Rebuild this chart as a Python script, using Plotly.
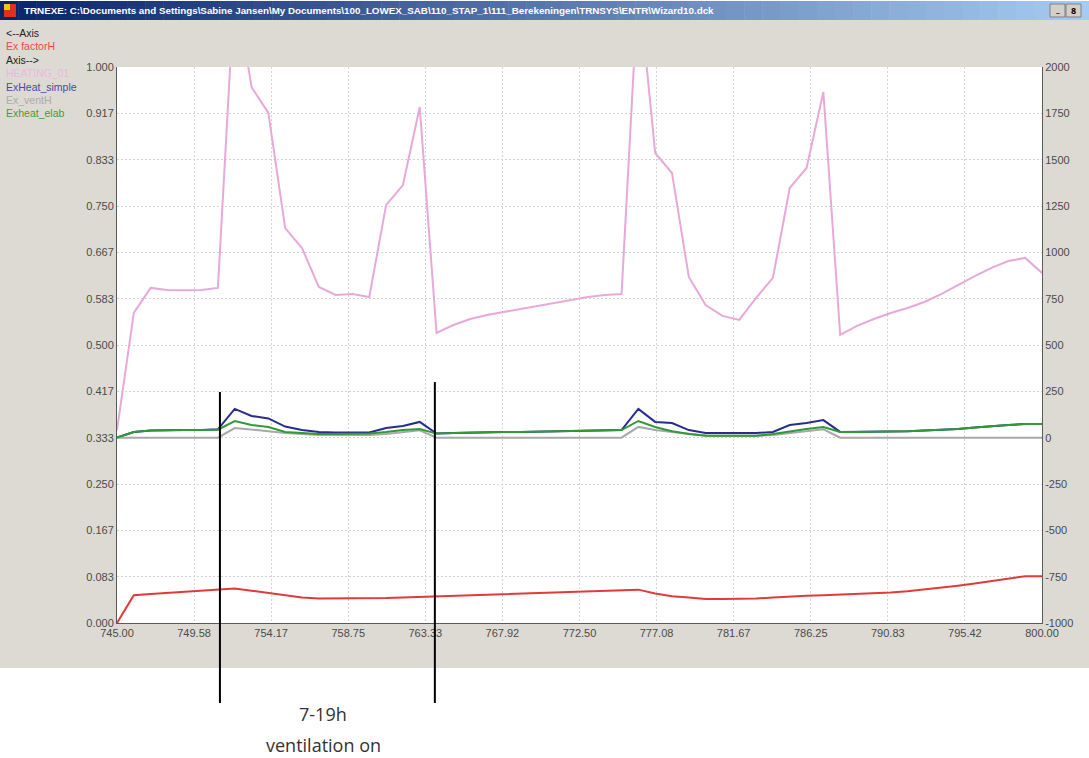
import plotly.graph_objects as go

# Simulation time in hours
hours = list(range(745, 801))

# Ex factorH (left axis, 0..1)
ex_factor_h = [
    0.000, 0.050, 0.052, 0.054, 0.056, 0.058, 0.060, 0.062, 0.058, 0.054,
    0.050, 0.046, 0.044, 0.044, 0.044, 0.044, 0.045, 0.046, 0.047, 0.048,
    0.049, 0.050, 0.052, 0.053, 0.054, 0.055, 0.056, 0.057, 0.058, 0.059,
    0.060, 0.060, 0.053, 0.048, 0.046, 0.043, 0.043, 0.043, 0.044, 0.046,
    0.048, 0.049, 0.050, 0.051, 0.052, 0.054, 0.055, 0.057, 0.060, 0.063,
    0.067, 0.071, 0.075, 0.079, 0.084, 0.084,
]

# Heating demand (right axis)
heating_01 = [
    41, 673, 808, 797, 795, 797, 808, 2450, 1892, 1752,
    1131, 1023, 813, 770, 775, 759, 1255, 1363, 1784, 565,
    608, 640, 662, 678, 694, 711, 727, 743, 759, 770,
    775, 2459, 1536, 1428, 867, 716, 657, 635, 754, 862,
    1347, 1455, 1865, 554, 603, 640, 673, 700, 732, 775,
    824, 872, 916, 953, 970, 889,
]

# Exergy of heating, simple model (right axis)
exheat_simple = [
    0, 30, 38, 41, 41, 41, 45, 155, 117, 104,
    60, 41, 31, 28, 28, 28, 52, 63, 85, 22,
    25, 28, 30, 31, 31, 33, 35, 36, 38, 40,
    41, 155, 85, 79, 41, 25, 25, 25, 25, 31,
    68, 79, 95, 31, 31, 31, 33, 35, 38, 41,
    47, 55, 63, 68, 74, 74,
]

# Exergy of ventilation heat (right axis)
ex_vent_h = [
    0, 0, 0, 0, 0, 0, 0, 52, 45, 35,
    25, 18, 15, 15, 15, 15, 20, 30, 40, 0,
    0, 0, 0, 0, 0, 0, 0, 0, 0, 0,
    0, 58, 41, 30, 20, 12, 10, 10, 10, 15,
    25, 35, 45, 0, 0, 0, 0, 0, 0, 0,
    0, 0, 0, 0, 0, 0,
]

# Exergy of heating, elaborate model (right axis)
exheat_elab = [
    0, 30, 38, 41, 41, 41, 43, 90, 68, 58,
    31, 25, 20, 20, 20, 22, 30, 41, 47, 22,
    25, 28, 30, 31, 31, 33, 35, 36, 38, 40,
    41, 90, 58, 35, 20, 10, 10, 10, 10, 20,
    35, 47, 58, 31, 31, 31, 33, 35, 38, 41,
    47, 55, 63, 68, 74, 74,
]

x_ticks = [745 + i * 55 / 12 for i in range(13)]
x_tick_text = [f"{v:.2f}" for v in x_ticks]
left_ticks = [i / 12 for i in range(13)]
left_tick_text = [f"{v:.3f}" for v in left_ticks]
right_ticks = list(range(-1000, 2001, 250))

# Ventilation period markers (hours)
vent_start, vent_end = 751.12, 763.9

W, H = 1089, 758
L, R, T, B = 117, 1042, 67, 623


def px(x):
    return (x - L) / (R - L)


def py(y):
    return (B - y) / (B - T)


fig = go.Figure()
fig.add_trace(go.Scatter(x=hours, y=ex_factor_h, mode="lines", name="Ex factorH",
                         line=dict(color="#E23A3A", width=2), yaxis="y"))
fig.add_trace(go.Scatter(x=hours, y=heating_01, mode="lines", name="HEATING_01",
                         line=dict(color="#E7A9D9", width=2), yaxis="y2"))
fig.add_trace(go.Scatter(x=hours, y=exheat_simple, mode="lines", name="ExHeat_simple",
                         line=dict(color="#2A2C8C", width=2), yaxis="y2"))
fig.add_trace(go.Scatter(x=hours, y=ex_vent_h, mode="lines", name="Ex_ventH",
                         line=dict(color="#A8A8A8", width=2), yaxis="y2"))
fig.add_trace(go.Scatter(x=hours, y=exheat_elab, mode="lines", name="Exheat_elab",
                         line=dict(color="#2F9A36", width=2), yaxis="y2"))

shapes = []
# window background
shapes.append(dict(type="rect", xref="paper", yref="paper",
                   x0=px(0), x1=px(W), y0=py(668), y1=py(20),
                   fillcolor="#DDDAD4", line=dict(width=0), layer="below"))
# plot area
shapes.append(dict(type="rect", xref="paper", yref="paper",
                   x0=0, x1=1, y0=0, y1=1,
                   fillcolor="white", line=dict(width=0), layer="below"))
# title bar gradient
n = 60
c0 = (10, 36, 106)
c1 = (166, 202, 240)
for i in range(n):
    t = i / (n - 1)
    c = tuple(int(round(c0[k] + (c1[k] - c0[k]) * t)) for k in range(3))
    shapes.append(dict(type="rect", xref="paper", yref="paper",
                       x0=px(W * i / n), x1=px(W * (i + 1) / n + 0.5),
                       y0=py(20), y1=py(1),
                       fillcolor=f"rgb{c}", line=dict(width=0), layer="below"))
# window icon
shapes.append(dict(type="rect", xref="paper", yref="paper",
                   x0=px(4), x1=px(16), y0=py(17), y1=py(4),
                   fillcolor="#E03020", line=dict(width=0), layer="below"))
shapes.append(dict(type="rect", xref="paper", yref="paper",
                   x0=px(4), x1=px(10), y0=py(10), y1=py(4),
                   fillcolor="#F0C020", line=dict(width=0), layer="below"))
# window buttons
for bx in (1050, 1066):
    shapes.append(dict(type="rect", xref="paper", yref="paper",
                       x0=px(bx), x1=px(bx + 15), y0=py(17), y1=py(4),
                       fillcolor="#D4D0C8", line=dict(color="#808080", width=1),
                       layer="below"))
# ventilation period markers
shapes.append(dict(type="line", xref="x", yref="paper",
                   x0=vent_start, x1=vent_start, y0=py(703), y1=py(392),
                   line=dict(color="black", width=2)))
shapes.append(dict(type="line", xref="x", yref="paper",
                   x0=vent_end, x1=vent_end, y0=py(703), y1=py(382),
                   line=dict(color="black", width=2)))

annotations = []
annotations.append(dict(
    xref="paper", yref="paper", x=px(22), y=py(10.5), xanchor="left", yanchor="middle",
    text="<b>TRNEXE: C:\\Documents and Settings\\Sabine Jansen\\My Documents\\100_LOWEX_SAB\\110_STAP_1\\111_Berekeningen\\TRNSYS\\ENTR\\Wizard10.dck</b>",
    showarrow=False, font=dict(family="Liberation Sans, Arial", size=9.8, color="white")))
annotations.append(dict(xref="paper", yref="paper", x=px(1057.5), y=py(9), text="<b>_</b>",
                        xanchor="center", yanchor="middle",
                        showarrow=False, font=dict(size=9, color="black")))
annotations.append(dict(xref="paper", yref="paper", x=px(1073.5), y=py(10.5), text="<b>8</b>",
                        xanchor="center", yanchor="middle",
                        showarrow=False, font=dict(size=9, color="black")))

legend_items = [
    ("&lt;--Axis", "#222222", 33),
    ("Ex factorH", "#F04848", 46.5),
    ("Axis--&gt;", "#222222", 60),
    ("HEATING_01", "#EDB6E0", 73),
    ("ExHeat_simple", "#4848A8", 86.5),
    ("Ex_ventH", "#ABABAB", 100),
    ("Exheat_elab", "#3C9E3C", 113),
]
for txt, col, yy in legend_items:
    annotations.append(dict(xref="paper", yref="paper", x=px(4), y=py(yy),
                            xanchor="left", yanchor="middle", text=txt, showarrow=False,
                            font=dict(family="Liberation Sans, Arial", size=10.5, color=col)))

annotations.append(dict(xref="paper", yref="paper", x=px(323), y=py(714), text="7-19h",
                        showarrow=False, xanchor="center", yanchor="middle",
                        font=dict(family="Open Sans", size=18, color="#333333")))
annotations.append(dict(xref="paper", yref="paper", x=px(323), y=py(745), text="ventilation on",
                        showarrow=False, xanchor="center", yanchor="middle",
                        font=dict(family="Open Sans", size=18, color="#333333")))

tick_font = dict(family="Liberation Sans, Arial", size=11, color="#4A4A4A")
grid = dict(showgrid=True, gridcolor="#D4D4D4", gridwidth=1, griddash="2px,2px")

fig.update_layout(
    width=W, height=H,
    margin=dict(l=L, r=W - R, t=T, b=H - B, pad=0),
    paper_bgcolor="white",
    plot_bgcolor="rgba(0,0,0,0)",
    showlegend=False,
    shapes=shapes,
    annotations=annotations,
    xaxis=dict(range=[745, 800], tickmode="array", tickvals=x_ticks, ticktext=x_tick_text,
               showline=True, linecolor="#5A5A5A", linewidth=1, zeroline=False,
               tickfont=tick_font, ticks="", **grid),
    yaxis=dict(range=[0, 1], tickmode="array", tickvals=left_ticks, ticktext=left_tick_text,
               showline=True, linecolor="#5A5A5A", linewidth=1, zeroline=False,
               tickfont=tick_font, ticks="", **grid),
    yaxis2=dict(range=[-1000, 2000], tickmode="array", tickvals=right_ticks,
                ticktext=[str(v) for v in right_ticks], overlaying="y", side="right",
                showline=True, linecolor="#5A5A5A", linewidth=1, zeroline=False,
                showgrid=False, tickfont=tick_font, ticks=""),
)

fig.write_html("out.html")
